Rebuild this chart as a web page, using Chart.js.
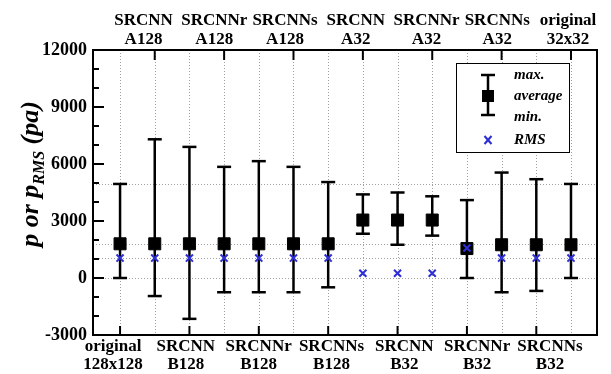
<!DOCTYPE html>
<html>
<head>
<meta charset="utf-8">
<script src="https://cdn.jsdelivr.net/npm/chart.js@4/dist/chart.umd.min.js"></script>
<style>
  html, body { margin: 0; padding: 0; background: #fff; }
</style>
</head>
<body>
<canvas id="chart" width="611" height="374"></canvas>
<script>
// one entry per error bar, left to right
const categories = [
  'original 128x128', 'SRCNN A128', 'SRCNN B128', 'SRCNNr A128', 'SRCNNr B128',
  'SRCNNs A128', 'SRCNNs B128', 'SRCNN A32', 'SRCNN B32', 'SRCNNr A32',
  'SRCNNr B32', 'SRCNNs A32', 'SRCNNs B32', 'original 32x32'
];
const maxVals = [4950, 7300, 6900, 5850, 6150, 5850, 5050, 4400, 4500, 4300, 4100, 5550, 5200, 4950];
const avgVals = [1800, 1800, 1800, 1800, 1800, 1800, 1800, 3050, 3050, 3050, 1550, 1750, 1750, 1750];
const minVals = [0, -950, -2150, -750, -750, -750, -490, 2330, 1750, 2230, 0, -750, -680, 0];
const rmsVals = [1050, 1050, 1050, 1050, 1050, 1050, 1050, 250, 250, 250, 1580, 1050, 1050, 1050];

// labels under / over the frame
const bottomLabels = [
  ['original', '128x128'], ['SRCNN', 'B128'], ['SRCNNr', 'B128'], ['SRCNNs', 'B128'],
  ['SRCNN', 'B32'], ['SRCNNr', 'B32'], ['SRCNNs', 'B32']
];
const topLabels = [
  ['SRCNN', 'A128'], ['SRCNNr', 'A128'], ['SRCNNs', 'A128'],
  ['SRCNN', 'A32'], ['SRCNNr', 'A32'], ['SRCNNs', 'A32'], ['original', '32x32']
];
const bottomTickIdx = [0, 2, 4, 6, 8, 10, 12];
const topTickIdx = [1, 3, 5, 7, 9, 11, 13];

const yTicks = [-3000, 0, 3000, 6000, 9000, 12000];
const refLines = [0, 1050, 1800, 4950];

const SERIF = "'Liberation Serif', 'Times New Roman', serif";
const BLUE = '#2e2ed6';

function seg(ctx, x1, y1, x2, y2) {
  ctx.beginPath();
  ctx.moveTo(x1, y1);
  ctx.lineTo(x2, y2);
  ctx.stroke();
}

const errorBars = {
  id: 'errorBars',
  beforeDatasetsDraw(chart) {
    const { ctx, chartArea: a, scales: { x, y } } = chart;
    ctx.save();
    // dotted guides
    ctx.strokeStyle = '#a0a0a0';
    ctx.lineWidth = 1;
    ctx.setLineDash([1, 2]);
    categories.forEach((c, i) => {
      const px = Math.round(x.getPixelForValue(i)) + 0.5;
      seg(ctx, px, a.top, px, a.bottom);
    });
    refLines.forEach(v => {
      const py = Math.round(y.getPixelForValue(v)) + 0.5;
      seg(ctx, a.left, py, a.right, py);
    });
    ctx.setLineDash([]);

    // max / min bars
    ctx.strokeStyle = '#000';
    ctx.lineWidth = 2.5;
    categories.forEach((c, i) => {
      const px = x.getPixelForValue(i);
      const top = y.getPixelForValue(maxVals[i]);
      const bot = y.getPixelForValue(minVals[i]);
      seg(ctx, px, top, px, bot);
      seg(ctx, px - 7, top, px + 7, top);
      seg(ctx, px - 7, bot, px + 7, bot);
    });
    ctx.restore();
  },
  afterDraw(chart) {
    const { ctx, chartArea: a, scales: { x, y } } = chart;
    ctx.save();
    ctx.strokeStyle = '#000';

    // frame + inward ticks
    ctx.lineWidth = 2;
    ctx.strokeRect(a.left, a.top, a.right - a.left, a.bottom - a.top);
    for (let v = y.min; v <= y.max; v += 1000) {
      const py = y.getPixelForValue(v);
      const len = yTicks.includes(v) ? 11 : 6;
      seg(ctx, a.left, py, a.left + len, py);
    }
    topTickIdx.forEach(i => {
      const px = x.getPixelForValue(i);
      seg(ctx, px, a.top, px, a.top + 10);
    });
    bottomTickIdx.forEach(i => {
      const px = x.getPixelForValue(i);
      seg(ctx, px, a.bottom, px, a.bottom - 9);
    });

    // legend box
    const lx = a.right - 141, ly = a.top + 13;
    ctx.fillStyle = '#fff';
    ctx.fillRect(lx, ly, 113, 89);
    ctx.lineWidth = 1;
    ctx.strokeRect(lx + 0.5, ly + 0.5, 113, 89);
    const sx = lx + 32;
    ctx.lineWidth = 2.5;
    seg(ctx, sx, ly + 12, sx, ly + 52);
    seg(ctx, sx - 7, ly + 12, sx + 7, ly + 12);
    seg(ctx, sx - 7, ly + 52, sx + 7, ly + 52);
    ctx.fillStyle = '#000';
    ctx.fillRect(sx - 6, ly + 27, 12, 12);
    ctx.strokeStyle = BLUE;
    ctx.lineWidth = 2;
    seg(ctx, sx - 3.5, ly + 73, sx + 3.5, ly + 81);
    seg(ctx, sx + 3.5, ly + 73, sx - 3.5, ly + 81);
    ctx.font = 'bold italic 15px ' + SERIF;
    ctx.textBaseline = 'middle';
    ctx.textAlign = 'left';
    ctx.fillText('max.', lx + 58, ly + 12);
    ctx.fillText('average', lx + 58, ly + 33);
    ctx.fillText('min.', lx + 58, ly + 54);
    ctx.fillText('RMS', lx + 58, ly + 77);

    // y title with subscript
    const big = 'bold italic 26px ' + SERIF, small = 'bold italic 16px ' + SERIF;
    const parts = [['p or p', big, 0], ['RMS', small, 6], [' (pa)', big, 0]];
    let total = 0;
    parts.forEach(p => { ctx.font = p[1]; total += ctx.measureText(p[0]).width; });
    ctx.translate(38, 174);
    ctx.rotate(-Math.PI / 2);
    let cx = -total / 2;
    ctx.textBaseline = 'alphabetic';
    parts.forEach(p => {
      ctx.font = p[1];
      ctx.fillText(p[0], cx, p[2]);
      cx += ctx.measureText(p[0]).width;
    });
    ctx.restore();
  }
};

const labelFont = { family: SERIF, size: 17, weight: 'bold', lineHeight: 1.1 };

new Chart(document.getElementById('chart'), {
  type: 'scatter',
  data: {
    datasets: [
      {
        label: 'RMS',
        data: rmsVals.map((v, i) => ({ x: i, y: v })),
        pointStyle: 'crossRot',
        pointRadius: 5,
        borderColor: BLUE,
        backgroundColor: BLUE,
        borderWidth: 2,
        order: 0
      },
      {
        label: 'average',
        data: avgVals.map((v, i) => ({ x: i, y: v })),
        pointStyle: 'rect',
        pointRadius: 8.5,
        borderColor: '#000',
        backgroundColor: '#000',
        borderWidth: 1,
        order: 1
      }
    ]
  },
  options: {
    responsive: false,
    animation: false,
    devicePixelRatio: 1,
    layout: { padding: { left: 0, right: 14, top: 0, bottom: 0 } },
    plugins: { legend: { display: false }, tooltip: { enabled: false } },
    scales: {
      x: { type: 'linear', display: false, min: -0.78, max: 13.75 },
      xt: {
        type: 'linear', position: 'top', min: -0.714, max: 6.41,
        grid: { display: false, drawTicks: false }, border: { display: false },
        afterBuildTicks: s => { s.ticks = topLabels.map((l, i) => ({ value: i })); },
        afterFit: s => { s.height = 50; },
        ticks: {
          autoSkip: false, maxRotation: 0, minRotation: 0, padding: 1,
          color: '#000', font: labelFont,
          callback: v => topLabels[v]
        }
      },
      xb: {
        type: 'linear', position: 'bottom', min: -0.275, max: 6.646,
        grid: { display: false, drawTicks: false }, border: { display: false },
        afterBuildTicks: s => { s.ticks = bottomLabels.map((l, i) => ({ value: i })); },
        afterFit: s => { s.height = 39; },
        ticks: {
          autoSkip: false, maxRotation: 0, minRotation: 0, padding: 2,
          color: '#000', font: labelFont,
          callback: v => bottomLabels[v]
        }
      },
      y: {
        min: -3000, max: 12000,
        grid: { display: false, drawTicks: false }, border: { display: false },
        afterBuildTicks: s => { s.ticks = yTicks.map(v => ({ value: v })); },
        afterFit: s => { s.width = 93; },
        ticks: {
          padding: 6, color: '#000',
          font: { family: SERIF, size: 18, weight: 'bold' },
          callback: v => String(v)
        }
      }
    }
  },
  plugins: [errorBars]
});
</script>
</body>
</html>
